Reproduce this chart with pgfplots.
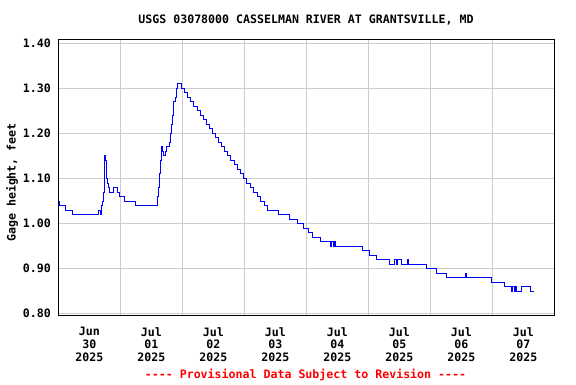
\documentclass[border=0pt]{standalone}
\usepackage{pgfplots}
\pgfplotsset{compat=1.18}
\usepackage{fontspec}
\setmainfont{DejaVu Sans Mono}
\definecolor{gridgray}{RGB}{204,204,204}
\definecolor{usgsblue}{RGB}{0,0,255}
\definecolor{usgsred}{RGB}{255,0,0}
\pgfplotstableread{
x y
0.000 1.05
0.023 1.04
0.119 1.03
0.226 1.02
0.645 1.03
0.684 1.02
0.697 1.04
0.710 1.05
0.724 1.07
0.737 1.10
0.750 1.15
0.766 1.14
0.774 1.11
0.784 1.10
0.794 1.09
0.805 1.08
0.826 1.07
0.882 1.08
0.958 1.07
0.984 1.06
1.060 1.05
1.248 1.04
1.592 1.05
1.605 1.06
1.616 1.08
1.629 1.11
1.644 1.14
1.656 1.17
1.673 1.16
1.690 1.15
1.731 1.16
1.748 1.17
1.785 1.18
1.802 1.20
1.818 1.22
1.834 1.24
1.850 1.25
1.863 1.27
1.882 1.28
1.898 1.30
1.919 1.31
1.990 1.30
2.040 1.29
2.089 1.28
2.139 1.27
2.187 1.26
2.237 1.25
2.285 1.24
2.335 1.23
2.385 1.22
2.434 1.21
2.484 1.20
2.534 1.19
2.584 1.18
2.634 1.17
2.684 1.16
2.734 1.15
2.784 1.14
2.834 1.13
2.884 1.12
2.934 1.11
2.984 1.10
3.040 1.09
3.097 1.08
3.153 1.07
3.210 1.06
3.266 1.05
3.323 1.04
3.377 1.03
3.548 1.02
3.721 1.01
3.855 1.00
3.952 0.99
4.032 0.98
4.097 0.97
4.221 0.96
4.382 0.95
4.398 0.96
4.439 0.95
4.447 0.96
4.463 0.95
4.903 0.94
5.016 0.93
5.135 0.92
5.334 0.91
5.419 0.92
5.447 0.91
5.468 0.92
5.539 0.91
5.635 0.92
5.652 0.91
5.942 0.90
6.103 0.89
6.253 0.88
6.565 0.89
6.576 0.88
6.979 0.87
7.189 0.86
7.313 0.85
7.329 0.86
7.355 0.85
7.366 0.86
7.382 0.85
7.474 0.86
7.608 0.85
7.673 0.85
}\gagedata
\begin{document}
\begin{tikzpicture}[x=1pt,y=1pt,font=\fontsize{11.6}{12.7}\selectfont\bfseries]
\useasboundingbox (0pt,0pt) rectangle (576pt,384pt);
\begin{axis}[
  at={(58.3pt,68.3pt)}, anchor=south west,
  scale only axis, width=496pt, height=276.3pt,
  xmin=0, xmax=8, ymin=0.7956, ymax=1.4084,
  xtick={0.5,1.5,2.5,3.5,4.5,5.5,6.5,7.5},
  xticklabels={{Jun\\30\\2025},{Jul\\01\\2025},{Jul\\02\\2025},{Jul\\03\\2025},{Jul\\04\\2025},{Jul\\05\\2025},{Jul\\06\\2025},{Jul\\07\\2025}},
  minor xtick={1,2,3,4,5,6,7},
  xminorgrids=true, xmajorgrids=false,
  ytick={0.8,0.9,1.0,1.1,1.2,1.3,1.4},
  yticklabels={0.80,0.90,1.00,1.10,1.20,1.30,1.40},
  ymajorgrids=true,
  major tick length=0pt, minor tick length=0pt,
  grid style={draw=gridgray, line width=1pt},
  minor grid style={draw=gridgray, line width=1pt},
  axis line style={black, line width=1pt},
  xticklabel style={align=center, yshift=-8pt, font=\fontsize{11.6}{12.7}\selectfont\bfseries},
  yticklabel style={xshift=-4pt, font=\fontsize{11.6}{12.7}\selectfont\bfseries},
]
\addplot[usgsblue, line width=0.9pt, const plot] table[x=x,y=y] {\gagedata};
\end{axis}
\node[rotate=90] at (12pt,201.5pt) {Gage height, feet};
\node at (306pt,363.5pt) {USGS 03078000 CASSELMAN RIVER AT GRANTSVILLE, MD};
\node[text=usgsred] at (305.5pt,9pt) {-{}-{}-{}- Provisional Data Subject to Revision -{}-{}-{}-};
\end{tikzpicture}
\end{document}
